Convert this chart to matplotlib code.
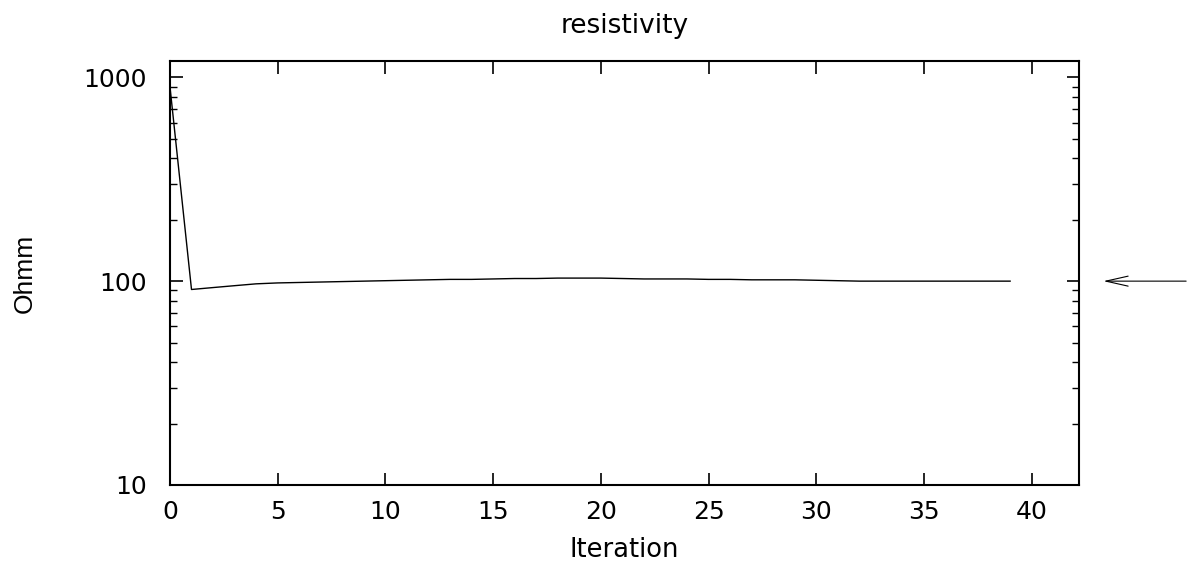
import matplotlib
matplotlib.use("Agg")
import matplotlib.pyplot as plt
from matplotlib.ticker import LogLocator, NullFormatter, FixedLocator, FixedFormatter

plt.rcParams['font.family'] = ['DejaVu Sans']

# iteration number and model resistivity (Ohm-m)
iterations = list(range(40))
resistivity = [900, 91, 93, 95, 97, 98, 98.5, 99, 99.5, 100,
               100.5, 101, 101.5, 102, 102, 102.5, 103, 103, 103.5, 103.5,
               103.5, 103, 102.5, 102.5, 102.5, 102, 102, 101.5, 101.5, 101.5,
               101, 100.5, 100, 100, 100, 100, 100, 100, 100, 100]
true_value = 100
x_ticks = [0, 5, 10, 15, 20, 25, 30, 35, 40]
y_ticks = [10, 100, 1000]

fig = plt.figure(figsize=(11.91, 5.61), dpi=100)
ax = fig.add_axes([0.1427, 0.1355, 0.9060 - 0.1427, 0.891 - 0.1355])

ax.plot(iterations, resistivity, color='black', lw=1.0)
ax.set_yscale('log')
ax.set_xlim(0, 42.2)
ax.set_ylim(10, 1200)

ax.xaxis.set_major_locator(FixedLocator(x_ticks))
ax.yaxis.set_major_locator(FixedLocator(y_ticks))
ax.yaxis.set_major_formatter(FixedFormatter([str(v) for v in y_ticks]))
ax.yaxis.set_minor_locator(LogLocator(base=10, subs=range(2, 10)))
ax.yaxis.set_minor_formatter(NullFormatter())

ax.tick_params(which='major', direction='in', length=9, width=1.2,
               top=True, right=True, labelsize=18)
ax.tick_params(axis='x', which='major', pad=11)
ax.tick_params(axis='y', which='major', pad=16.5)
ax.tick_params(which='minor', direction='in', length=5, width=1.0,
               left=True, right=True)
for s in ax.spines.values():
    s.set_linewidth(1.5)

ax.set_xlabel('Iteration', fontsize=18.5, labelpad=9)
ax.set_ylabel('Ohmm', fontsize=19, labelpad=34,
              family=['Liberation Sans Narrow', 'DejaVu Sans Condensed',
                      'Liberation Sans', 'DejaVu Sans'])
ax.set_title('resistivity', fontsize=19, pad=20)

# arrow marking the true resistivity
ax.annotate('', xy=(43.2, true_value), xytext=(47.3, true_value),
            annotation_clip=False,
            arrowprops=dict(arrowstyle='->,head_length=0.8,head_width=0.18',
                            color='black', lw=0.8, mutation_scale=20))

fig.savefig('out.png', dpi=100)
